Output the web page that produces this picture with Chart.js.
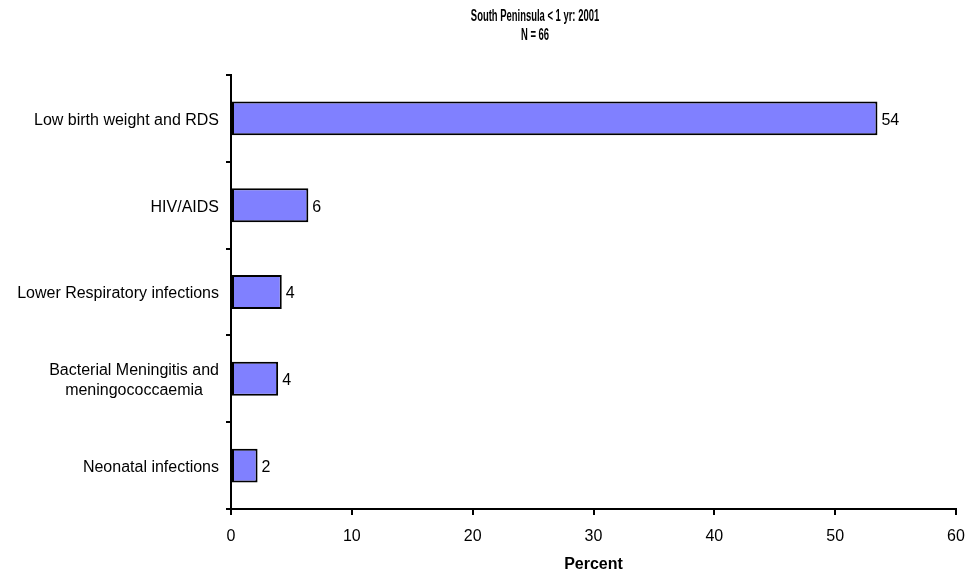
<!DOCTYPE html>
<html>
<head>
<meta charset="utf-8">
<script src="https://cdn.jsdelivr.net/npm/chart.js@4/dist/chart.umd.min.js"></script>
<style>
  html, body { margin: 0; padding: 0; background: #fff; }
  #wrap { width: 969px; height: 575px; }
</style>
</head>
<body>
<div id="wrap"><canvas id="causesChart" width="969" height="575"></canvas></div>
<script>
// chart data
const chartTitle = ['South Peninsula < 1 yr: 2001', 'N = 66'];
const causes = [
  'Low birth weight and RDS',
  'HIV/AIDS',
  'Lower Respiratory infections',
  ['Bacterial Meningitis and', 'meningococcaemia'],
  'Neonatal infections'
];
const percents = [53.5, 6.4, 4.2, 3.9, 2.2];
const xTicks = [0, 10, 20, 30, 40, 50, 60];
const xTitle = 'Percent';

const FONT = 'Liberation Sans, Arial, sans-serif';

// all the text is drawn here so it can sit where the original has it
const textPlugin = {
  id: 'textPlugin',
  afterDraw(chart) {
    const ctx = chart.ctx;
    const xScale = chart.scales.x;
    const yScale = chart.scales.y;
    ctx.save();
    ctx.fillStyle = '#000';
    ctx.textBaseline = 'middle';

    // title, narrow bold
    ctx.font = 'bold 16px ' + FONT;
    ctx.textAlign = 'center';
    chartTitle.forEach((t, i) => {
      ctx.save();
      ctx.translate(535, 17 + i * 19);
      ctx.scale(0.59, 1);
      ctx.fillText(t, 0, 0);
      ctx.restore();
    });

    // category labels, multi-line ones centred within their block
    ctx.font = '16px ' + FONT;
    const right = 219;
    causes.forEach((lab, i) => {
      const lines = Array.isArray(lab) ? lab : [lab];
      const cy = yScale.getPixelForValue(i) + 2;
      const maxW = Math.max(...lines.map(l => ctx.measureText(l).width));
      lines.forEach((l, j) => {
        const y = cy + (j - (lines.length - 1) / 2) * 20.5;
        ctx.textAlign = 'center';
        ctx.fillText(l, right - maxW / 2, y);
      });
    });

    // x tick labels
    ctx.textAlign = 'center';
    xTicks.forEach(v => {
      ctx.fillText(String(v), xScale.getPixelForValue(v), 537);
    });

    // x axis title
    ctx.font = 'bold 16px ' + FONT;
    ctx.fillText(xTitle, (xScale.left + xScale.right) / 2, 565);

    // values at the end of the bars
    ctx.font = '16px ' + FONT;
    ctx.textAlign = 'left';
    chart.getDatasetMeta(0).data.forEach((bar, i) => {
      ctx.fillText(String(Math.round(percents[i])), bar.x + 4, bar.y + 2);
    });
    ctx.restore();
  }
};

const config = {
  type: 'bar',
  data: {
    labels: causes,
    datasets: [{
      data: percents,
      backgroundColor: '#8080FF',
      borderColor: '#000',
      borderWidth: 2,
      borderSkipped: false,
      categoryPercentage: 1,
      barPercentage: 0.39
    }]
  },
  options: {
    indexAxis: 'y',
    responsive: false,
    animation: false,
    layout: { padding: { top: 75, right: 13, left: 0, bottom: 0 } },
    plugins: {
      legend: { display: false },
      title: { display: false },
      tooltip: { enabled: false }
    },
    scales: {
      x: {
        min: 0,
        max: 60,
        afterFit(scale) { scale.height = 66; },
        afterBuildTicks(scale) { scale.ticks = xTicks.map(v => ({ value: v })); },
        ticks: { display: false },
        grid: { drawOnChartArea: false, color: '#000', tickLength: 6, lineWidth: 2 },
        border: { color: '#000', width: 2 }
      },
      y: {
        offset: true,
        afterFit(scale) { scale.width = 231; },
        ticks: { display: false },
        grid: { offset: true, drawOnChartArea: false, color: '#000', tickLength: 5, lineWidth: 2 },
        border: { color: '#000', width: 2 }
      }
    }
  },
  plugins: [textPlugin]
};

const myChart = new Chart(document.getElementById('causesChart').getContext('2d'), config);
</script>
</body>
</html>
